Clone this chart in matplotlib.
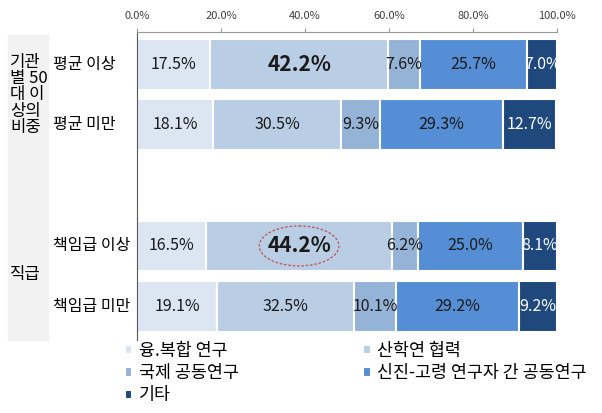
import matplotlib.pyplot as plt
import matplotlib.transforms as mtransforms
from matplotlib.patches import Ellipse, Rectangle

plt.rcParams['font.family'] = ['Noto Sans CJK KR', 'DejaVu Sans']

rows = ['평균 이상', '평균 미만', '책임급 이상', '책임급 미만']
series = ['융.복합 연구', '산학연 협력', '국제 공동연구', '신진-고령 연구자 간 공동연구', '기타']
values = [
    [17.5, 18.1, 16.5, 19.1],
    [42.2, 30.5, 44.2, 32.5],
    [7.6, 9.3, 6.2, 10.1],
    [25.7, 29.3, 25.0, 29.2],
    [7.0, 12.7, 8.1, 9.2],
]
colors = ['#dce6f2', '#b9cde5', '#95b3d7', '#558ed5', '#1f497d']
ypos = [0, 1, 3, 4]

fig = plt.figure(figsize=(6.02, 4.13), dpi=100)
ax = fig.add_axes([0.2276, 0.177, 0.925 - 0.2276, 0.9225 - 0.177])

# grey box behind the group labels
fig.patches.append(Rectangle((8 / 602, 1 - 340 / 413), 40 / 602, 305 / 413,
                             transform=fig.transFigure, color='#f2f2f2', zorder=0))

bars = []
left = [0, 0, 0, 0]
for i, (name, vals) in enumerate(zip(series, values)):
    b = ax.barh(ypos, vals, left=left, height=0.84, color=colors[i],
                edgecolor='white', linewidth=1.5, label=name)
    bars.append(b)
    for y, l, v in zip(ypos, left, vals):
        txt_color = 'white' if i == 4 else '#1a1a1a'
        big = (i == 1 and v > 40)
        ax.text(l + v / 2, y, f'{v:.1f}%', ha='center', va='center',
                fontsize=15 if big else 11.5, fontweight='bold' if big else 'normal',
                color=txt_color)
    left = [a + b_ for a, b_ in zip(left, vals)]

# dashed ellipse around 44.2%
ax.add_patch(Ellipse((16.5 + 44.2 / 2, 3), 19, 0.66, fill=False,
                     edgecolor='#c0504d', linestyle=(0, (2, 1.5)), linewidth=0.9))

ax.set_xlim(0, 100)
ax.set_ylim(4.55, -0.53)
ax.xaxis.tick_top()
ax.set_xticks([0, 20, 40, 60, 80, 100])
ax.set_xticklabels(['0.0%', '20.0%', '40.0%', '60.0%', '80.0%', '100.0%'],
                   fontsize=8, color='#404040')
ax.tick_params(axis='x', length=3, color='#999999', pad=5)
ax.set_yticks([])
ax.spines['right'].set_visible(False)
ax.spines['bottom'].set_visible(False)
ax.spines['top'].set_color('#999999')
ax.spines['left'].set_color('#555555')

# row labels, left aligned
trans = mtransforms.blended_transform_factory(fig.transFigure, ax.transData)
for y, r in zip(ypos, rows):
    fig.text(53 / 602, y, r, transform=trans, fontsize=11.5, ha='left', va='center')

fig.text(10 / 602, 1 - 95 / 413, '기관\n별 50\n대 이\n상의\n비중', fontsize=12,
         va='center', ha='left', linespacing=0.95)
fig.text(10 / 602, 1 - 274 / 413, '직급', fontsize=12, va='center', ha='left')

h = [bars[0], bars[2], bars[4], bars[1], bars[3]]
lab = [series[0], series[2], series[4], series[1], series[3]]
fig.legend(h, lab, ncol=2, loc='upper left', bbox_to_anchor=(116 / 602, 1 - 333 / 413),
           frameon=False, fontsize=12.5, handlelength=0.45, handleheight=0.45,
           labelspacing=0.25, columnspacing=7.2, handletextpad=0.35, borderpad=0)

fig.savefig('out.png', dpi=100)
